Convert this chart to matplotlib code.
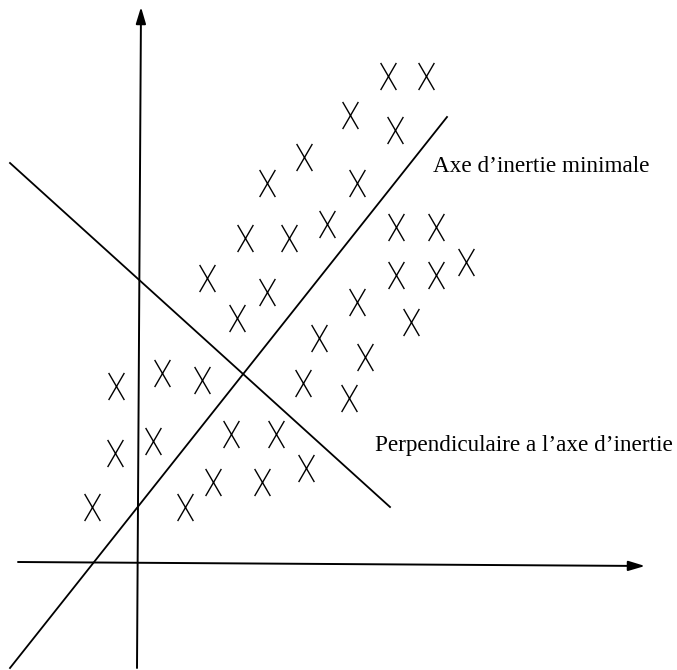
import matplotlib

matplotlib.use("Agg")
import matplotlib.pyplot as plt
from matplotlib.path import Path

# ── point cloud (units: origin at the axes crossing) ─────────────────────────
PTS_X = [25.0, 28.8, 21.2, 25.7, 16.6, 21.9, 12.9, 10.7, 15.1, 18.9, 25.8, 29.8,
         6.9, 12.9, 25.8, 29.8, 32.8, 9.9, 21.9, 27.3, 18.1, 22.7, -2.2, 2.4,
         6.4, 16.5, 21.1, -2.3, 1.5, 9.3, 13.8, 16.8, 7.5, 12.4, -4.6, 4.7]
PTS_Y = [48.7, 48.7, 44.8, 43.3, 40.6, 38.0, 38.0, 32.5, 32.5, 33.9, 33.6, 33.6,
         28.5, 27.1, 28.8, 28.8, 30.1, 24.5, 26.1, 24.1, 22.5, 20.6, 17.7, 19.0,
         18.3, 18.0, 16.5, 11.0, 12.2, 12.9, 12.9, 9.5, 8.1, 8.1, 5.6, 5.6]

# principal axis and its perpendicular (end points)
MAIN_X = [-12.8, 30.9]
MAIN_Y = [-10.5, 44.6]
PERP_X = [-12.8, 25.2]
PERP_Y = [40.0, 5.6]

# coordinate axes (start, tip)
XAXIS = [(-12.0, 0.1), (50.7, -0.3)]
YAXIS = [(-0.1, -10.5), (0.3, 55.6)]

LABELS = ["Axe d\u2019inertie minimale", "Perpendiculaire a l\u2019axe d\u2019inertie"]
LABEL_POS = [(29.5, 39.7), (23.7, 11.8)]

# tall thin cross, like a plotted "X"
XMARK = Path([(-0.29, -0.5), (0.29, 0.5), (-0.29, 0.5), (0.29, -0.5)],
             [Path.MOVETO, Path.LINETO, Path.MOVETO, Path.LINETO])

fig = plt.figure(figsize=(6.77, 6.70), dpi=100)
ax = fig.add_axes([0, 0, 1, 1])
ax.set_xlim(-13.8, 53.9)
ax.set_ylim(-10.7, 56.3)
ax.axis("off")

for start, tip in (XAXIS, YAXIS):
    ax.annotate("", xy=tip, xytext=start,
                arrowprops=dict(arrowstyle="-|>,head_length=1.0,head_width=0.3",
                                lw=1.4, color="black", shrinkA=0, shrinkB=0))

ax.plot(MAIN_X, MAIN_Y, color="black", lw=1.3)
ax.plot(PERP_X, PERP_Y, color="black", lw=1.3)

ax.plot(PTS_X, PTS_Y, ls="none", marker=XMARK, ms=19.5, mew=1.0,
        mec="black", mfc="none", snap=False)

for txt, (x, y) in zip(LABELS, LABEL_POS):
    ax.text(x, y, txt, ha="left", va="center", fontsize=16.7,
            family="Liberation Serif", color="black")

fig.savefig("out.png", dpi=100)
